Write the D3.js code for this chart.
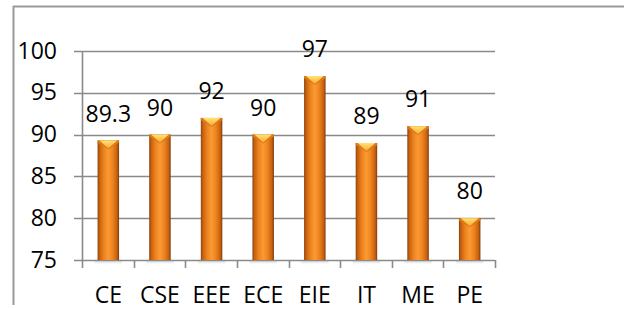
<!DOCTYPE html>
<html><head><meta charset="utf-8">
<script src="https://cdn.jsdelivr.net/npm/d3@7"></script>
<style>
html,body{margin:0;padding:0;background:#fff;}
svg{display:block;}
text{font-family:"Open Sans",sans-serif;font-size:23px;fill:#000;}
</style></head>
<body>
<svg id="chart" width="624" height="309"></svg>
<script>
const categories = ["CE","CSE","EEE","ECE","EIE","IT","ME","PE"];
const values = [89.3, 90, 92, 90, 97, 89, 91, 80];
const valueLabels = ["89.3","90","92","90","97","89","91","80"];
const yTicks = [75, 80, 85, 90, 95, 100];

const svg = d3.select("#chart");
const W = 624, H = 309;
const x = d3.scaleBand().domain(categories).range([82, 495]).padding(0);
const y = d3.scaleLinear().domain([75, 100]).range([260, 51]);

// outer frame (top and left only)
svg.append("line").attr("x1",13).attr("x2",W).attr("y1",6.5).attr("y2",6.5)
  .attr("stroke","#9a9a9a").attr("stroke-width",2);
svg.append("line").attr("x1",13.5).attr("x2",13.5).attr("y1",6).attr("y2",305)
  .attr("stroke","#9a9a9a").attr("stroke-width",2);

const defs = svg.append("defs");
const g1 = defs.append("linearGradient").attr("id","barGrad").attr("x1","0").attr("x2","1").attr("y1","0").attr("y2","0");
[[0,"#8c4410"],[0.1,"#c8620f"],[0.3,"#ee8420"],[0.5,"#fb9a33"],[0.7,"#ee8420"],[0.9,"#c8620f"],[1,"#7e3c0c"]]
  .forEach(([o,c])=>g1.append("stop").attr("offset",o).attr("stop-color",c));
const g2 = defs.append("linearGradient").attr("id","capGrad").attr("x1","0").attr("x2","0").attr("y1","0").attr("y2","1");
[[0,"#ffe27a"],[0.6,"#ffc24a"],[1,"#f7a23a"]].forEach(([o,c])=>g2.append("stop").attr("offset",o).attr("stop-color",c));
const g3 = defs.append("linearGradient").attr("id","shadowGrad").attr("x1","0").attr("x2","0").attr("y1","0").attr("y2","1");
[[0,"#bdbdbd",0.7],[1,"#ffffff",0]].forEach(([o,c,op])=>g3.append("stop").attr("offset",o).attr("stop-color",c).attr("stop-opacity",op));

// gridlines (with left tick stubs)
svg.append("g").selectAll("line").data(yTicks).join("line")
  .attr("x1",74).attr("x2",495)
  .attr("y1",d=>Math.round(y(d))+0.5).attr("y2",d=>Math.round(y(d))+0.5)
  .attr("stroke","#8a8a8a").attr("stroke-width",1.6);

// y axis line
svg.append("line").attr("x1",82.5).attr("x2",82.5).attr("y1",y(100)).attr("y2",y(75)+8)
  .attr("stroke","#8a8a8a").attr("stroke-width",1.6);

// x ticks at band boundaries
const bounds = categories.map(c=>x(c)).concat([x.range()[1]]);
svg.append("g").selectAll("line").data(bounds.slice(1)).join("line")
  .attr("x1",d=>Math.round(d)+0.5).attr("x2",d=>Math.round(d)+0.5)
  .attr("y1",y(75)).attr("y2",y(75)+8)
  .attr("stroke","#8a8a8a").attr("stroke-width",1.6);

// y tick labels
svg.append("g").selectAll("text").data(yTicks).join("text")
  .attr("x",57).attr("y",d=>y(d)+7.5).attr("text-anchor","end").text(d=>d);

// bars
const bw = 21.5;
const bars = svg.append("g").selectAll("g").data(categories).join("g");
bars.each(function(c,i){
  const g = d3.select(this);
  const cx = x(c) + x.bandwidth()/2 + 0.5;
  const x0 = cx - bw/2, x1 = cx + bw/2;
  const top = y(values[i]), bot = y(75);
  g.append("rect").attr("x",x0-3).attr("y",bot+1).attr("width",bw+6).attr("height",4)
    .attr("fill","url(#shadowGrad)");
  g.append("rect").attr("x",x0).attr("y",top).attr("width",bw).attr("height",bot-top)
    .attr("fill","url(#barGrad)");
  g.append("path")
    .attr("d",`M${x0},${top} L${x1},${top} L${x1},${top+2} L${x1-3},${top+4} L${cx},${top+9} L${x0+3},${top+4} L${x0},${top+2} Z`)
    .attr("fill","#e07a18");
  g.append("path")
    .attr("d",`M${x0+2},${top} L${x1-2},${top} L${cx},${top+8} Z`)
    .attr("fill","url(#capGrad)");
});

// value labels
svg.append("g").selectAll("text").data(categories).join("text")
  .attr("x",(c)=>x(c)+x.bandwidth()/2+0.5)
  .attr("y",(c,i)=>y(values[i])-18.8)
  .attr("text-anchor","middle")
  .text((c,i)=>valueLabels[i]);

// category labels
svg.append("g").selectAll("text").data(categories).join("text")
  .attr("x",c=>x(c)+x.bandwidth()/2+0.5).attr("y",303)
  .attr("text-anchor","middle").text(c=>c);
</script>
</body></html>
